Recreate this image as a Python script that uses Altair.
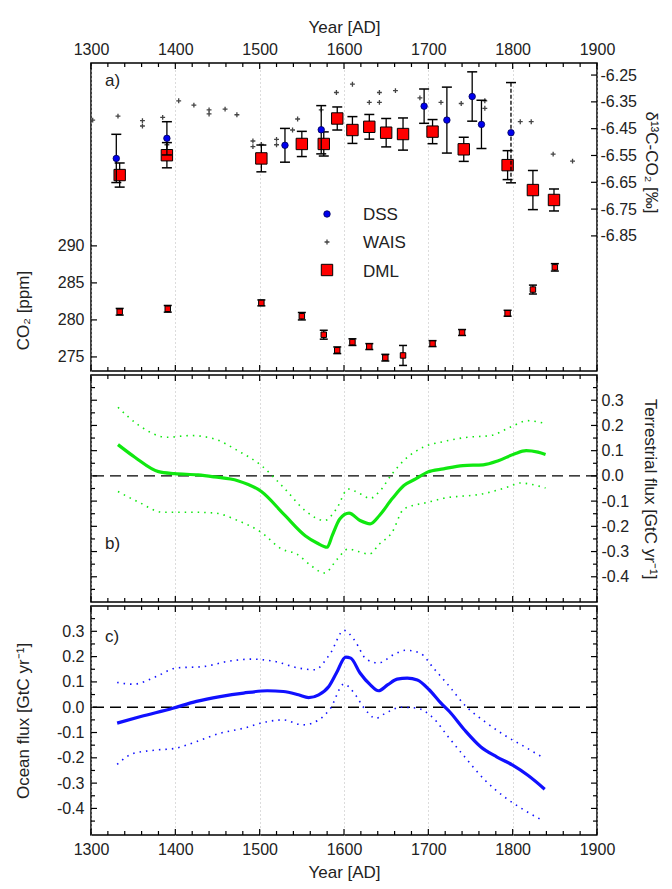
import altair as alt
import pandas as pd

FONT = "Liberation Sans, Arial, Helvetica, sans-serif"
TXT = "#222222"
LFS, TFS = 16, 17

# ---------------- Panel a data ----------------
co2_year = [1334, 1391, 1502, 1550, 1576, 1592, 1610, 1630, 1649, 1670, 1705, 1740, 1794, 1824, 1850]
co2_ppm = [281.1, 281.5, 282.3, 280.5, 278.0, 275.9, 277.0, 276.4, 274.9, 275.2, 276.8, 278.3, 280.9, 284.1, 287.1]
co2_err = [0.45, 0.45, 0.4, 0.5, 0.6, 0.45, 0.45, 0.4, 0.45, 1.35, 0.4, 0.4, 0.4, 0.6, 0.5]

dml_year = [1334, 1390, 1502, 1550, 1576, 1592, 1610, 1630, 1650, 1670, 1705, 1742, 1794, 1824, 1849]
dml_d13 = [-6.623, -6.549, -6.561, -6.507, -6.507, -6.412, -6.455, -6.443, -6.465, -6.470, -6.461, -6.527, -6.586, -6.679, -6.716]
dml_err = [0.045, 0.047, 0.050, 0.047, 0.045, 0.043, 0.050, 0.046, 0.053, 0.060, 0.045, 0.045, 0.054, 0.073, 0.041]

dss_year = [1330, 1390, 1530, 1573, 1695, 1722, 1752, 1763, 1798]
dss_d13 = [-6.561, -6.486, -6.512, -6.454, -6.366, -6.418, -6.330, -6.434, -6.465]
dss_err = [0.090, 0.062, 0.063, 0.090, 0.064, 0.123, 0.092, 0.090, 0.187]
dss_dashed = [False, False, False, False, False, False, False, False, True]

wais_year = [1302, 1332, 1361, 1361, 1385, 1390, 1404, 1422, 1440, 1440, 1459, 1473, 1492, 1492, 1502,
             1520, 1520, 1539, 1545, 1573, 1591, 1610, 1630, 1642, 1642, 1661, 1690, 1715, 1739, 1767,
             1767, 1809, 1822, 1848, 1871]
wais_d13 = [-6.418, -6.403, -6.420, -6.440, -6.408, -6.510, -6.346, -6.362, -6.380, -6.395, -6.377, -6.398,
            -6.496, -6.517, -6.509, -6.490, -6.510, -6.455, -6.414, -6.380, -6.315, -6.284, -6.352, -6.352,
            -6.315, -6.308, -6.335, -6.352, -6.356, -6.346, -6.374, -6.424, -6.424, -6.545, -6.571]

# ---------------- Panel b data (terrestrial flux) ----------------
terr_year = [1332, 1352, 1380, 1399, 1427, 1446, 1474, 1502, 1530, 1554, 1568, 1580, 1586, 1595, 1606,
             1619, 1631, 1642, 1657, 1671, 1685, 1699, 1718, 1741, 1765, 1783, 1802, 1816, 1830, 1839]
terr_flux = [0.124, 0.074, 0.017, 0.009, 0.004, -0.004, -0.019, -0.062, -0.157, -0.237, -0.266, -0.283,
             -0.237, -0.171, -0.148, -0.177, -0.190, -0.157, -0.091, -0.038, -0.012, 0.015, 0.028, 0.041,
             0.044, 0.060, 0.087, 0.100, 0.094, 0.085]

terr_hi_year = [1332, 1357, 1390, 1418, 1446, 1474, 1502, 1530, 1554, 1577, 1591, 1605, 1619, 1631, 1642,
                1657, 1671, 1694, 1718, 1746, 1774, 1797, 1818, 1837]
terr_hi = [0.272, 0.200, 0.153, 0.160, 0.147, 0.100, 0.041, -0.052, -0.138, -0.177, -0.131, -0.052, -0.071,
           -0.089, -0.062, 0.008, 0.061, 0.114, 0.136, 0.153, 0.160, 0.193, 0.219, 0.209]

terr_lo_year = [1332, 1357, 1385, 1418, 1446, 1474, 1502, 1526, 1544, 1561, 1577, 1592, 1605, 1617, 1630,
                1642, 1657, 1671, 1699, 1718, 1765, 1797, 1809, 1818, 1839]
terr_lo = [-0.062, -0.105, -0.144, -0.144, -0.147, -0.177, -0.224, -0.290, -0.310, -0.356, -0.385, -0.330,
           -0.290, -0.300, -0.310, -0.270, -0.224, -0.131, -0.105, -0.089, -0.071, -0.041, -0.028, -0.031, -0.048]

# ---------------- Panel c data (ocean flux) ----------------
ocean_year = [1331, 1359, 1397, 1425, 1453, 1481, 1509, 1528, 1546, 1558, 1570, 1582, 1591, 1602, 1608,
              1619, 1631, 1641, 1652, 1663, 1675, 1687, 1701, 1715, 1725, 1743, 1762, 1781, 1800, 1818, 1838]
ocean_flux = [-0.063, -0.037, -0.004, 0.023, 0.042, 0.056, 0.065, 0.062, 0.049, 0.038, 0.049, 0.082, 0.135,
              0.198, 0.194, 0.135, 0.089, 0.065, 0.089, 0.111, 0.115, 0.108, 0.069, 0.016, -0.017, -0.090,
              -0.156, -0.196, -0.229, -0.269, -0.324]

ocean_hi_year = [1331, 1350, 1378, 1401, 1434, 1462, 1490, 1518, 1546, 1565, 1584, 1600, 1612, 1627, 1641,
                 1659, 1673, 1690, 1706, 1725, 1743, 1767, 1790, 1814, 1833]
ocean_hi = [0.098, 0.091, 0.122, 0.155, 0.161, 0.181, 0.190, 0.181, 0.155, 0.148, 0.214, 0.304, 0.267, 0.188,
            0.175, 0.208, 0.225, 0.214, 0.155, 0.082, 0.009, -0.057, -0.110, -0.156, -0.193]

ocean_lo_year = [1331, 1350, 1378, 1399, 1425, 1453, 1481, 1509, 1528, 1551, 1570, 1584, 1600, 1612, 1624,
                 1638, 1649, 1668, 1687, 1704, 1725, 1743, 1767, 1790, 1814, 1833]
ocean_lo = [-0.226, -0.183, -0.169, -0.163, -0.136, -0.103, -0.083, -0.057, -0.050, -0.070, -0.050, -0.004,
            0.092, 0.056, -0.004, -0.044, -0.024, 0.000, -0.004, -0.037, -0.123, -0.196, -0.288, -0.354,
            -0.407, -0.443]

# axis tick values
year_major = [1300, 1400, 1500, 1600, 1700, 1800, 1900]
year_minor = [1320, 1340, 1360, 1380, 1420, 1440, 1460, 1480, 1520, 1540, 1560, 1580, 1620, 1640, 1660,
              1680, 1720, 1740, 1760, 1780, 1820, 1840, 1860, 1880]
co2_ticks = [275, 280, 285, 290]
d13_ticks = [-6.25, -6.35, -6.45, -6.55, -6.65, -6.75, -6.85]
flux_major = [-0.4, -0.3, -0.2, -0.1, 0.0, 0.1, 0.2, 0.3]
flux_minor = [-0.45, -0.35, -0.25, -0.15, -0.05, 0.05, 0.15, 0.25, 0.35]

# ---------------- layout ----------------
W = 506
HA, HB, HC = 308, 227, 229
MAJ, MIN = 6, 4
HYPHEN = "replace(datum.label, '\u2212', '-')"

xscale = alt.Scale(domain=[1300, 1900], nice=False, zero=False)

def x_axis(orient, show, tpad=8):
    kw = dict(orient=orient, values=year_major, format="d", grid=True, gridDash=[1, 3],
              gridColor="#b8b8b8", gridWidth=1, ticks=False, domain=False, labelFlush=False,
              labelOverlap=False)
    if show:
        kw.update(labels=True, title="Year [AD]", labelPadding=6, titlePadding=tpad)
    else:
        kw.update(labels=False)
    return alt.Axis(**kw)


def xticks(H):
    dmaj = pd.DataFrame({"year": year_major})
    dmin = pd.DataFrame({"year": year_minor})
    out = []
    for d, L in ((dmaj, MAJ), (dmin, MIN)):
        base = alt.Chart(d).mark_rule(color="black", strokeWidth=1.2)
        out.append(base.encode(x=alt.X("year:Q", scale=xscale), y=alt.value(0), y2=alt.value(L)))
        out.append(base.encode(x=alt.X("year:Q", scale=xscale), y=alt.value(H), y2=alt.value(H - L)))
    return out


def yticks(values, yenc, L, left=True, right=True):
    d = pd.DataFrame({"v": values})
    out = []
    base = alt.Chart(d).mark_rule(color="black", strokeWidth=1.2)
    if left:
        out.append(base.encode(y=yenc("v"), x=alt.value(0), x2=alt.value(L)))
    if right:
        out.append(base.encode(y=yenc("v"), x=alt.value(W - L), x2=alt.value(W)))
    return out


def label(txt, px, py):
    return alt.Chart(pd.DataFrame({"t": [txt]})).mark_text(
        font=FONT, fontSize=17, color=TXT, align="left", baseline="middle"
    ).encode(text="t:N", x=alt.value(px), y=alt.value(py))

# ---------- Panel a ----------
co2_scale = alt.Scale(domain=[273.1, 314.7], nice=False, zero=False)
co2_axis = alt.Axis(orient="left", values=co2_ticks, title="CO₂ [ppm]", titleY=247, ticks=False,
                    domain=False, labelPadding=7, titlePadding=25, grid=False)
def co2_y(f):
    return alt.Y(f + ":Q", scale=co2_scale, axis=co2_axis)

d13_scale = alt.Scale(domain=[-7.354, -6.205], nice=False, zero=False)
d13_axis = alt.Axis(orient="right", values=d13_ticks, format=".2f", labelExpr=HYPHEN,
                    title="δ¹³C-CO₂ [‰]", titleY=99,
                    ticks=False, domain=False, labelPadding=3, titlePadding=5, grid=False)
def d13_y(f):
    return alt.Y(f + ":Q", scale=d13_scale, axis=d13_axis)

co2_df = pd.DataFrame({"year": co2_year, "v": co2_ppm, "err": co2_err})
co2_df["lo"] = co2_df.v - co2_df.err
co2_df["hi"] = co2_df.v + co2_df.err
X = alt.X("year:Q", scale=xscale, axis=x_axis("top", True, tpad=5))
Xp = alt.X("year:Q", scale=xscale)

cb = alt.Chart(co2_df)
co2_group = alt.layer(
    cb.mark_rule(color="black", strokeWidth=1.3).encode(x=X, y=co2_y("lo"), y2="hi:Q"),
    cb.mark_rule(color="black", strokeWidth=1.5, xOffset=-4, x2Offset=4).encode(x=Xp, x2="year:Q", y=co2_y("hi")),
    cb.mark_rule(color="black", strokeWidth=1.5, xOffset=-4, x2Offset=4).encode(x=Xp, x2="year:Q", y=co2_y("lo")),
    cb.mark_point(shape="square", filled=True, fill="#ff0000", stroke="black", strokeWidth=1,
                  size=30, opacity=1).encode(x=Xp, y=co2_y("v")),
    *yticks(co2_ticks, co2_y, MAJ, left=True, right=False),
)

dml_df = pd.DataFrame({"year": dml_year, "v": dml_d13, "err": dml_err})
dml_df["lo"] = dml_df.v - dml_df.err
dml_df["hi"] = dml_df.v + dml_df.err
dss_df = pd.DataFrame({"year": dss_year, "v": dss_d13, "err": dss_err, "dashed": dss_dashed})
dss_df["lo"] = dss_df.v - dss_df.err
dss_df["hi"] = dss_df.v + dss_df.err
wais_df = pd.DataFrame({"year": wais_year, "v": wais_d13})

db = alt.Chart(dml_df)
sb = alt.Chart(dss_df)
plus = "M-1,0L1,0M0,-1L0,1"
d13_group = alt.layer(
    alt.Chart(wais_df).mark_point(shape=plus, filled=False, stroke="#444444", strokeWidth=1.3, size=24,
                                  opacity=1).encode(x=Xp, y=d13_y("v")),
    db.mark_rule(color="black", strokeWidth=1.3).encode(x=Xp, y=d13_y("lo"), y2="hi:Q"),
    db.mark_rule(color="black", strokeWidth=1.5, xOffset=-5, x2Offset=5).encode(x=Xp, x2="year:Q", y=d13_y("hi")),
    db.mark_rule(color="black", strokeWidth=1.5, xOffset=-5, x2Offset=5).encode(x=Xp, x2="year:Q", y=d13_y("lo")),
    db.mark_point(shape="square", filled=True, fill="#ff0000", stroke="black", strokeWidth=1,
                  size=130, opacity=1).encode(x=Xp, y=d13_y("v")),
    sb.transform_filter("!datum.dashed").mark_rule(color="black", strokeWidth=1.3).encode(
        x=Xp, y=d13_y("lo"), y2="hi:Q"),
    sb.transform_filter("datum.dashed").mark_rule(color="black", strokeWidth=1.3, strokeDash=[4, 2]).encode(
        x=Xp, y=d13_y("lo"), y2="hi:Q"),
    sb.mark_rule(color="black", strokeWidth=1.5, xOffset=-5, x2Offset=5).encode(x=Xp, x2="year:Q", y=d13_y("hi")),
    sb.mark_rule(color="black", strokeWidth=1.5, xOffset=-5, x2Offset=5).encode(x=Xp, x2="year:Q", y=d13_y("lo")),
    sb.mark_point(shape="circle", filled=True, fill="#0000ee", stroke="#000055", strokeWidth=0.8,
                  size=42, opacity=1).encode(x=Xp, y=d13_y("v")),
    *yticks(d13_ticks, d13_y, MAJ, left=False, right=True),
)

# manual legend
leg_dss = alt.Chart(pd.DataFrame({"t": ["DSS"]})).mark_point(
    shape="circle", filled=True, fill="#0000ee", stroke="#000055", strokeWidth=0.8, size=42, opacity=1
).encode(x=alt.value(236), y=alt.value(151))
leg_wais = alt.Chart(pd.DataFrame({"t": ["WAIS"]})).mark_point(
    shape=plus, filled=False, stroke="#444444", strokeWidth=1.3, size=24, opacity=1
).encode(x=alt.value(236), y=alt.value(179))
leg_dml = alt.Chart(pd.DataFrame({"t": ["DML"]})).mark_point(
    shape="square", filled=True, fill="#ff0000", stroke="black", strokeWidth=1, size=130, opacity=1
).encode(x=alt.value(236), y=alt.value(207))

panel_a = alt.layer(
    co2_group, d13_group,
    *xticks(HA),
    label("a)", 14, 18),
    leg_dss, leg_wais, leg_dml,
    label("DSS", 272, 152), label("WAIS", 272, 180), label("DML", 272, 209),
).resolve_scale(y="independent").properties(width=W, height=HA)

# ---------- Panel b ----------
flux_scale_b = alt.Scale(domain=[-0.5, 0.4], nice=False, zero=False)
axis_b = alt.Axis(orient="right", values=flux_major, format=".1f", labelExpr=HYPHEN,
                  title="Terrestrial flux [GtC yr⁻¹]",
                  ticks=False, domain=False, labelPadding=4, titlePadding=12, grid=False)
def yb(f):
    return alt.Y(f + ":Q", scale=flux_scale_b, axis=axis_b)

Xb = alt.X("year:Q", scale=xscale, axis=x_axis("bottom", False), title=None)
terr_df = pd.DataFrame({"year": terr_year, "v": terr_flux})
terr_hi_df = pd.DataFrame({"year": terr_hi_year, "v": terr_hi})
terr_lo_df = pd.DataFrame({"year": terr_lo_year, "v": terr_lo})
GREEN = "#10e810"
panel_b = alt.layer(
    alt.Chart(pd.DataFrame({"v": [0.0]})).mark_rule(color="black", strokeWidth=1.4, strokeDash=[11, 6]).encode(y=yb("v")),
    alt.Chart(terr_hi_df).mark_line(color=GREEN, strokeWidth=1.6, strokeDash=[1.5, 5], interpolate="monotone").encode(x=Xb, y=yb("v")),
    alt.Chart(terr_lo_df).mark_line(color=GREEN, strokeWidth=1.6, strokeDash=[1.5, 5], interpolate="monotone").encode(x=Xp, y=yb("v")),
    alt.Chart(terr_df).mark_line(color=GREEN, strokeWidth=3.2, interpolate="monotone").encode(x=Xp, y=yb("v")),
    *xticks(HB),
    *yticks(flux_major, yb, MAJ),
    *yticks(flux_minor, yb, MIN),
    label("b)", 14, 169),
).properties(width=W, height=HB)

# ---------- Panel c ----------
flux_scale_c = alt.Scale(domain=[-0.505, 0.40], nice=False, zero=False)
axis_c = alt.Axis(orient="left", values=flux_major, format=".1f", labelExpr=HYPHEN,
                  title="Ocean flux [GtC yr⁻¹]",
                  ticks=False, domain=False, labelPadding=7, titlePadding=24, grid=False)
def yc(f):
    return alt.Y(f + ":Q", scale=flux_scale_c, axis=axis_c)

Xc = alt.X("year:Q", scale=xscale, axis=x_axis("bottom", True, tpad=7))
ocean_df = pd.DataFrame({"year": ocean_year, "v": ocean_flux})
ocean_hi_df = pd.DataFrame({"year": ocean_hi_year, "v": ocean_hi})
ocean_lo_df = pd.DataFrame({"year": ocean_lo_year, "v": ocean_lo})
BLUE = "#1010ff"
panel_c = alt.layer(
    alt.Chart(pd.DataFrame({"v": [0.0]})).mark_rule(color="black", strokeWidth=1.4, strokeDash=[11, 6]).encode(y=yc("v")),
    alt.Chart(ocean_hi_df).mark_line(color=BLUE, strokeWidth=1.6, strokeDash=[1.5, 5], interpolate="monotone").encode(x=Xc, y=yc("v")),
    alt.Chart(ocean_lo_df).mark_line(color=BLUE, strokeWidth=1.6, strokeDash=[1.5, 5], interpolate="monotone").encode(x=Xp, y=yc("v")),
    alt.Chart(ocean_df).mark_line(color=BLUE, strokeWidth=3.2, interpolate="monotone").encode(x=Xp, y=yc("v")),
    *xticks(HC),
    *yticks(flux_major, yc, MAJ),
    *yticks(flux_minor, yc, MIN),
    label("c)", 14, 31),
).properties(width=W, height=HC)

chart = alt.vconcat(panel_a, panel_b, panel_c, spacing=0).properties(
    padding={"left": 5, "top": 9, "right": 0, "bottom": 2}
).configure_view(stroke="black", strokeWidth=1.5).configure_axis(
    labelFont=FONT, titleFont=FONT, labelFontSize=LFS, titleFontSize=TFS, labelColor=TXT, titleColor=TXT,
    titleFontWeight="normal"
)

chart.save("out.html", embed_options={"renderer": "svg", "actions": False})
